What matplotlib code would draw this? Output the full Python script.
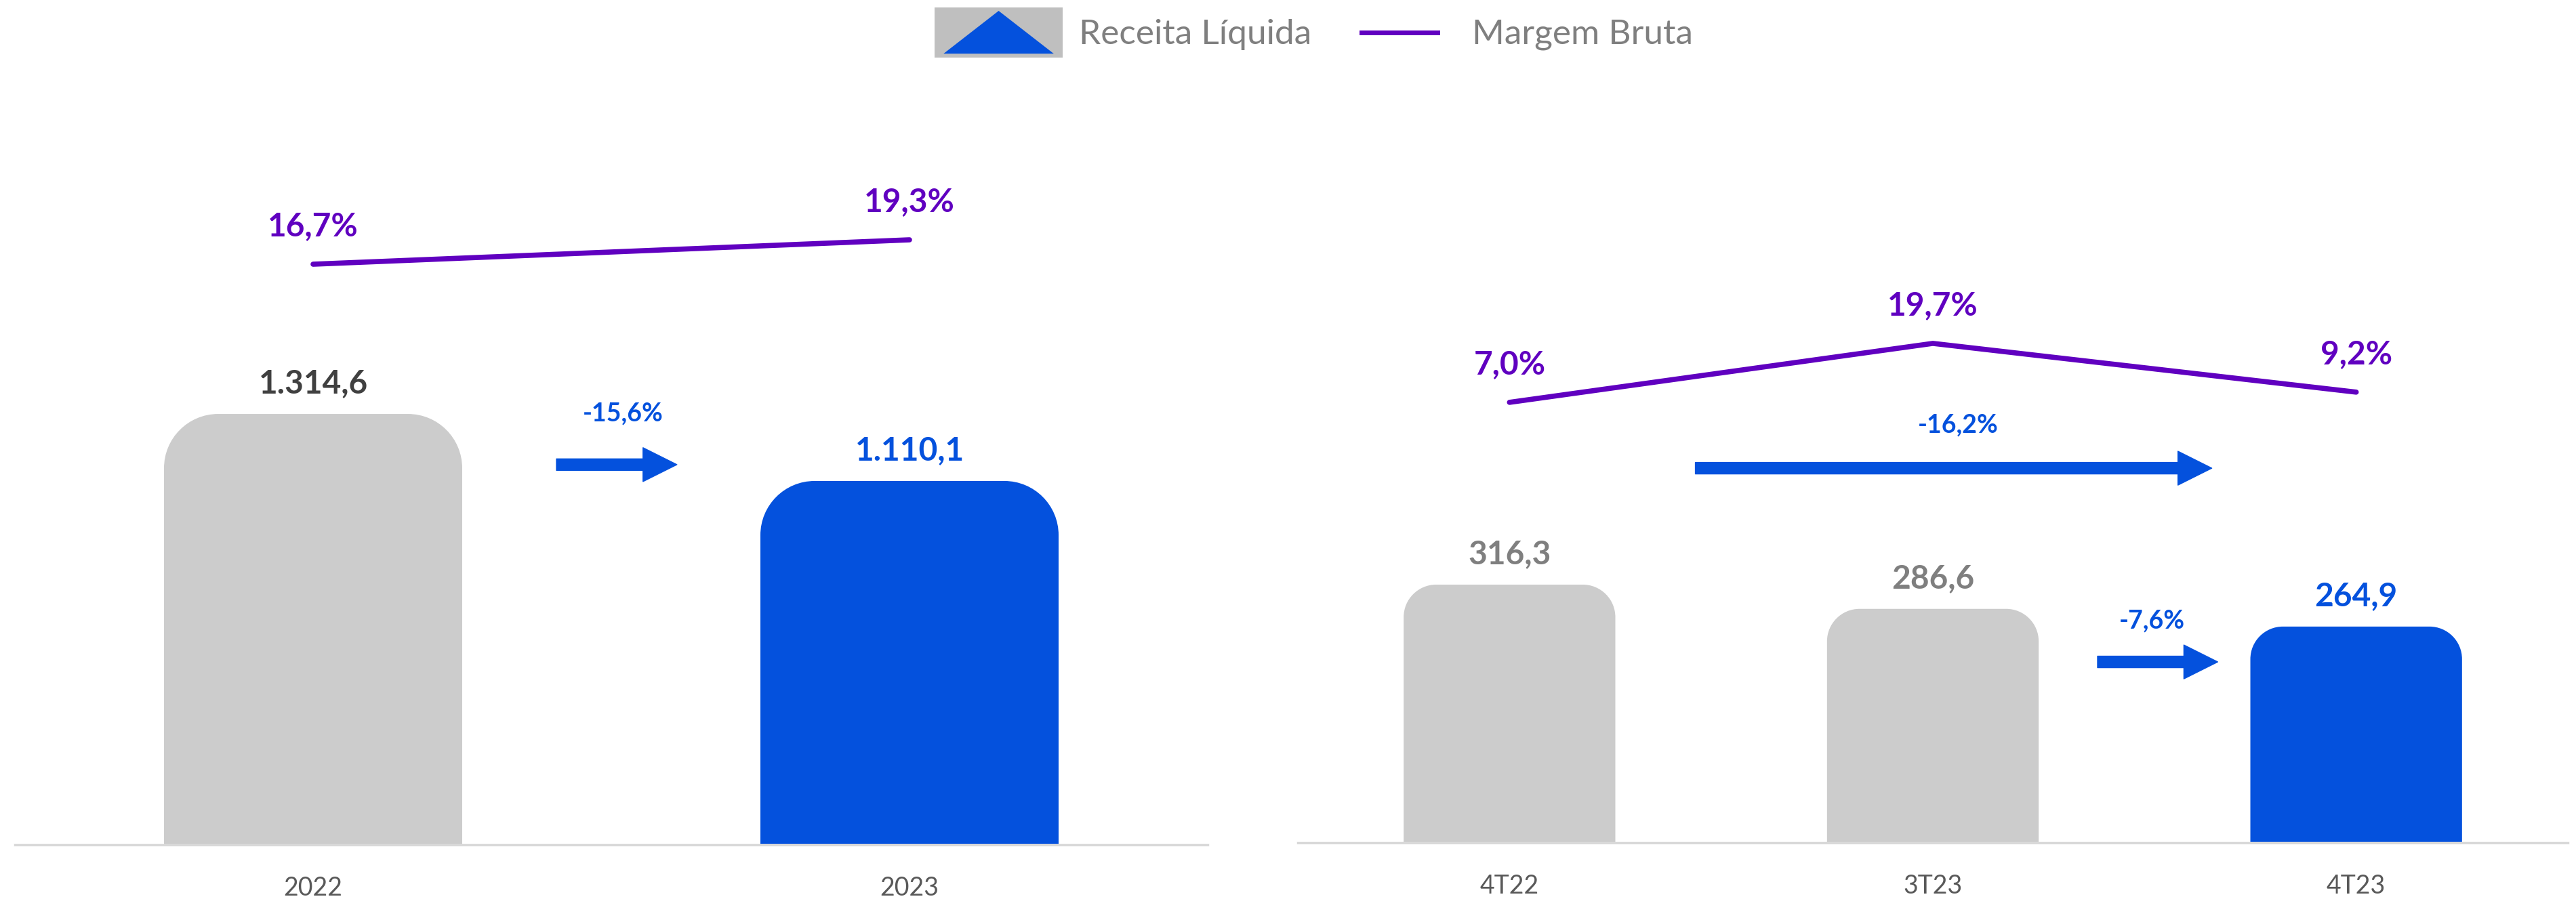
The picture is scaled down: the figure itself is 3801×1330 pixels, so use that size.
"""
Receita Liquida x Margem Bruta - anual e trimestral
"""

import matplotlib
matplotlib.use("Agg")
import matplotlib.pyplot as plt
from matplotlib.path import Path
from matplotlib.patches import PathPatch, Patch, Rectangle, Polygon
from matplotlib.lines import Line2D
from matplotlib.legend_handler import HandlerBase

plt.rcParams['font.family'] = ['Lato', 'DejaVu Sans']

# ---- data ----
years = ['2022', '2023']
revenue_years = [1314.6, 1110.1]
margin_years = [16.7, 19.3]
change_years = ['-15,6%']

quarters = ['4T22', '3T23', '4T23']
revenue_quarters = [316.3, 286.6, 264.9]
margin_quarters = [7.0, 19.7, 9.2]
change_quarters = ['-16,2%', '-7,6%']

# ---- style ----
GRAY = '#CCCCCC'
BLUE = '#0451DD'
PURPLE = '#6000C0'
AXIS_GRAY = '#D9D9D9'
TICK_COLOR = '#595959'
LEGEND_TEXT = '#7F7F7F'


def fmt_br(v):
    s = f"{v:,.1f}"
    return s.replace(',', '#').replace('.', ',').replace('#', '.')


def fmt_pct(v):
    return f"{v:.1f}%".replace('.', ',')


def round_tops(ax, bars, radius_px):
    """Swap the square bar patches for ones with rounded top corners."""
    k = 0.5523
    for rect in bars:
        x0, y0 = rect.get_x(), rect.get_y()
        w, h = rect.get_width(), rect.get_height()
        (px0, py0), (px1, py1) = ax.transData.transform([(x0, y0), (x0 + w, y0 + h)])
        r = min(radius_px, (px1 - px0) / 2, py1 - py0)
        verts = [(px0, py0), (px0, py1 - r),
                 (px0, py1 - r + k * r), (px0 + r - k * r, py1), (px0 + r, py1),
                 (px1 - r, py1),
                 (px1 - r + k * r, py1), (px1, py1 - r + k * r), (px1, py1 - r),
                 (px1, py0), (px0, py0)]
        codes = [Path.MOVETO, Path.LINETO,
                 Path.CURVE4, Path.CURVE4, Path.CURVE4,
                 Path.LINETO,
                 Path.CURVE4, Path.CURVE4, Path.CURVE4,
                 Path.LINETO, Path.CLOSEPOLY]
        data_verts = ax.transData.inverted().transform(verts)
        patch = PathPatch(Path(data_verts, codes), facecolor=rect.get_facecolor(),
                          edgecolor='none', zorder=2)
        rect.remove()
        ax.add_patch(patch)


def draw_panel(ax, cats, revenue, margin, bar_colors, label_colors,
               ylim_bar, ylim_margin, radius_px):
    x = list(range(len(cats)))
    bars = ax.bar(x, revenue, width=0.5, color=bar_colors)
    ax.set_xlim(-0.5, len(cats) - 0.5)
    ax.set_ylim(*ylim_bar)
    round_tops(ax, bars, radius_px)

    for xi, v, c in zip(x, revenue, label_colors):
        ax.annotate(fmt_br(v), (xi, v), xytext=(0, 32.5), textcoords='offset points',
                    ha='center', va='center', fontsize=34.5, fontweight='bold', color=c)

    ax.set_xticks(x)
    ax.set_xticklabels(cats)
    ax.tick_params(axis='x', length=0, pad=33, labelsize=27, labelcolor=TICK_COLOR)
    ax.set_yticks([])
    for side in ['top', 'left', 'right']:
        ax.spines[side].set_visible(False)
    ax.spines['bottom'].set_color(AXIS_GRAY)
    ax.spines['bottom'].set_linewidth(2.5)

    ax2 = ax.twinx()
    ax2.plot(x, margin, color=PURPLE, linewidth=5.5, solid_capstyle='round')
    ax2.set_ylim(*ylim_margin)
    ax2.set_yticks([])
    for side in ax2.spines:
        ax2.spines[side].set_visible(False)
    for xi, m in zip(x, margin):
        ax2.annotate(fmt_pct(m), (xi, m), xytext=(0, 40), textcoords='offset points',
                     ha='center', va='center', fontsize=34.5, fontweight='bold', color=PURPLE)
    return ax2


def change_arrow(ax, x_start, x_end, y, label, label_xy):
    ax.annotate('', xy=(x_end, y), xytext=(x_start, y),
                arrowprops=dict(arrowstyle='simple,head_length=1.0,head_width=1.0,tail_width=0.34',
                                mutation_scale=36, color=BLUE, shrinkA=0, shrinkB=0))
    ax.text(label_xy[0], label_xy[1], label, ha='center', va='center',
            fontsize=27, fontweight='bold', color=BLUE)


class RevenueHandler(HandlerBase):
    def create_artists(self, legend, orig_handle, xdescent, ydescent,
                       width, height, fontsize, trans):
        x0, y0 = -xdescent, -ydescent
        box = Rectangle((x0, y0), width, height, facecolor='#BFBFBF',
                        edgecolor='none', transform=trans)
        tri = Polygon([(x0 + 0.07 * width, y0 + 0.08 * height),
                       (x0 + 0.93 * width, y0 + 0.08 * height),
                       (x0 + 0.5 * width, y0 + 0.93 * height)],
                      closed=True, facecolor=BLUE, edgecolor='none', transform=trans)
        return [box, tri]


class MarginHandler(HandlerBase):
    def create_artists(self, legend, orig_handle, xdescent, ydescent,
                       width, height, fontsize, trans):
        x0, y0 = -xdescent, -ydescent
        yc = y0 + height / 2
        line = Line2D([x0 + 0.265 * width, x0 + 0.857 * width], [yc, yc],
                      color=PURPLE, linewidth=5, transform=trans)
        return [line]


fig = plt.figure(figsize=(38.01, 13.30), dpi=100)

ax_year = fig.add_axes([22 / 3801, 83 / 1330, 1760 / 3801, 1147 / 1330])
ax_quarter = fig.add_axes([1915 / 3801, 86 / 1330, 1874 / 3801, 1144 / 1330])

draw_panel(ax_year, years, revenue_years, margin_years,
           [GRAY, BLUE], ['#404040', BLUE],
           (0, 2371), (-45.18, 37.64), 80)
draw_panel(ax_quarter, quarters, revenue_quarters, margin_quarters,
           [GRAY, GRAY, BLUE], ['#7F7F7F', '#7F7F7F', BLUE],
           (0, 949.7), (-87.9, 79.1), 48)

change_arrow(ax_year, 0.408, 0.61, 1160, change_years[0], (0.52, 1315))
change_arrow(ax_quarter, 0.439, 1.659, 459, change_quarters[0], (1.059, 512))
change_arrow(ax_quarter, 1.389, 1.673, 221.6, change_quarters[1], (1.518, 272))

rev_handle = Patch(label='Receita Líquida')
mar_handle = Line2D([], [], label='Margem Bruta')
fig.legend(handles=[rev_handle, mar_handle], ncol=2, frameon=False,
           loc='center left', bbox_to_anchor=(1379 / 3801, 1 - 48 / 1330),
           bbox_transform=fig.transFigure, borderpad=0, borderaxespad=0,
           fontsize=37, labelcolor=LEGEND_TEXT,
           handlelength=3.68, handleheight=1.85, handletextpad=0.47, columnspacing=0.45,
           handler_map={Patch: RevenueHandler(), Line2D: MarginHandler()})

fig.savefig('out.png', dpi=100)
